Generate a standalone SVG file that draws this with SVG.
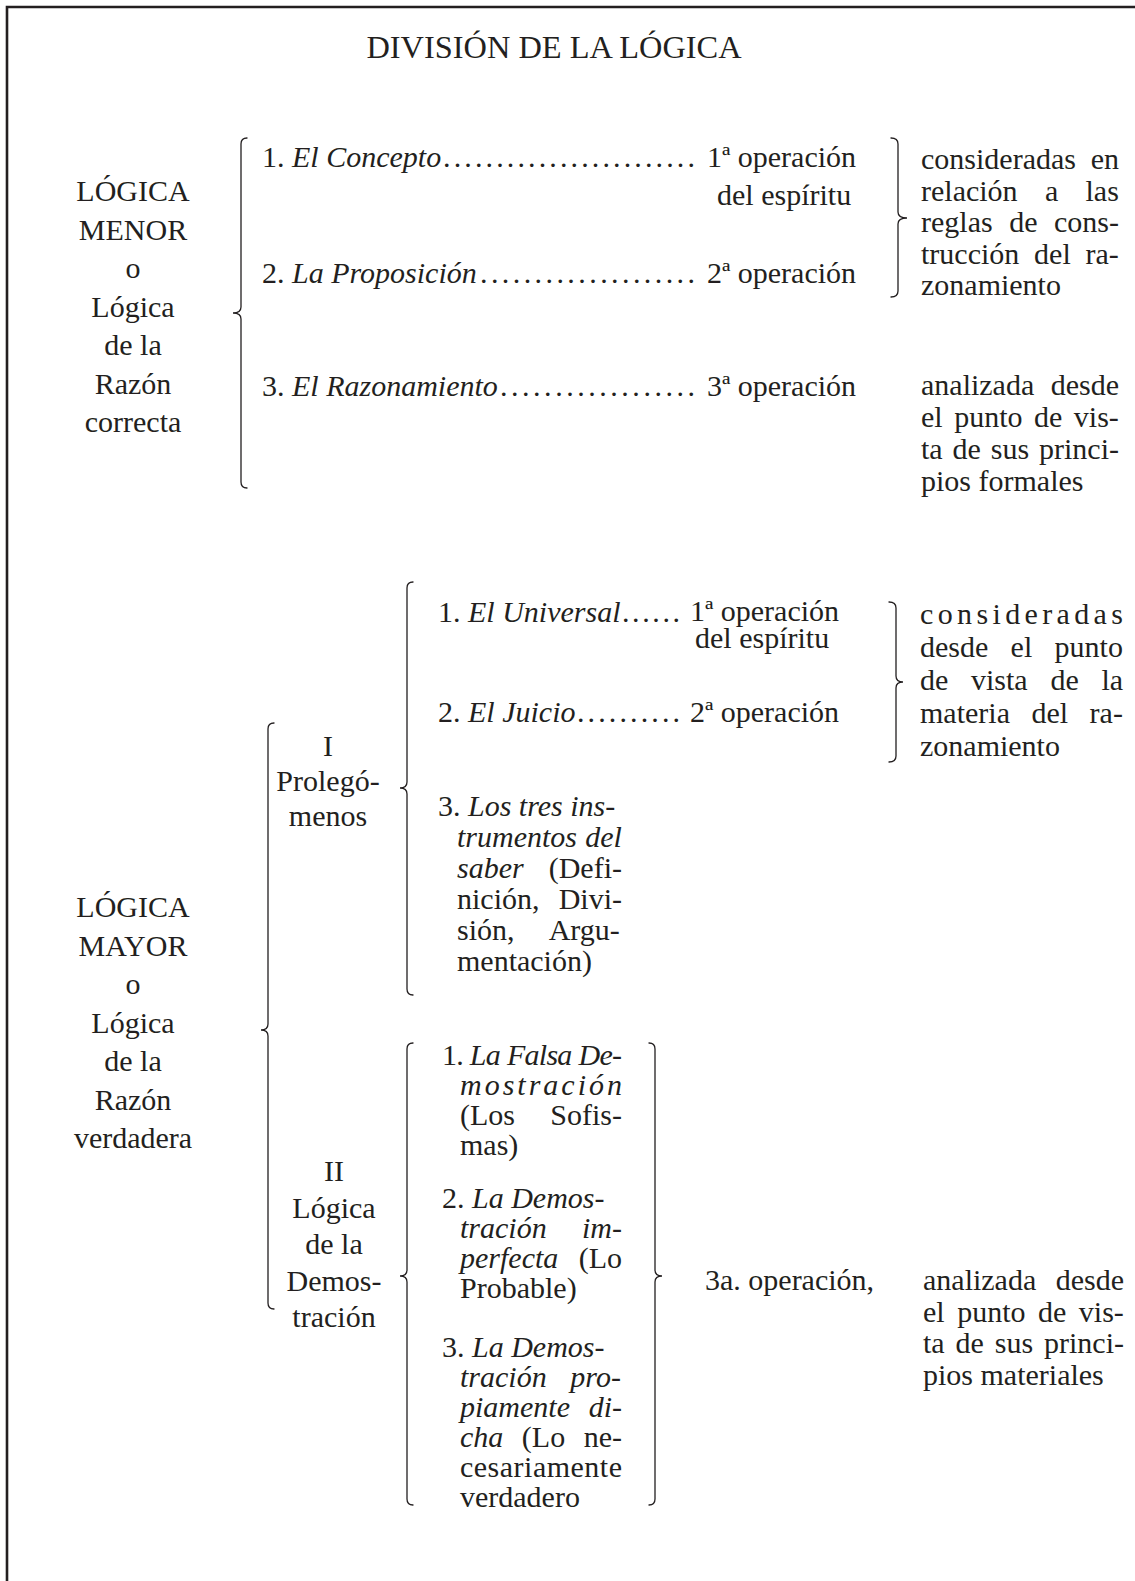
<svg xmlns="http://www.w3.org/2000/svg" width="1135" height="1581" viewBox="0 0 1135 1581">
<style>
.t{font-family:"Liberation Serif","Times New Roman",serif;font-size:30px;fill:#231f20}
.c{text-anchor:middle}
.i{font-style:italic}
.ttl{font-size:32.4px}
.br{fill:none;stroke:#231f20;stroke-width:1.3;stroke-linecap:round}
.frame{fill:none;stroke:#231f20;stroke-width:2.6}
</style>
<rect width="1135" height="1581" fill="#ffffff"/>
<path class="frame" d="M7 1581 L7 7 L1135 7"/>

<g id="title"><text class="t ttl c" x="554" y="58">DIVISIÓN DE LA LÓGICA</text></g>

<g id="logica-menor">
<text class="t c"><tspan x="133" y="201">LÓGICA</tspan><tspan x="133" y="239.5">MENOR</tspan><tspan x="133" y="278">o</tspan><tspan x="133" y="316.5">Lógica</tspan><tspan x="133" y="355">de la</tspan><tspan x="133" y="393.5">Razón</tspan><tspan x="133" y="432">correcta</tspan></text>
</g>

<g id="concepto">
<text class="t" x="262" y="167">1. <tspan class="i">El Concepto</tspan></text>
<text class="t" x="443" y="167" textLength="252" lengthAdjust="spacing">........................</text>
<text class="t" x="707" y="167">1ª operación</text>
<text class="t" x="717" y="205">del espíritu</text>
</g>
<g id="proposicion">
<text class="t" x="262" y="283">2. <tspan class="i">La Proposición</tspan></text>
<text class="t" x="480" y="283" textLength="215" lengthAdjust="spacing">....................</text>
<text class="t" x="707" y="283">2ª operación</text>
</g>
<g id="razonamiento">
<text class="t" x="262" y="396">3. <tspan class="i">El Razonamiento</tspan></text>
<text class="t" x="500" y="396" textLength="195" lengthAdjust="spacing">..................</text>
<text class="t" x="707" y="396">3ª operación</text>
</g>

<g id="reglas">
<text class="t" x="921" y="169" style="word-spacing:7.2px">consideradas en</text>
<text class="t" x="921" y="200.5" style="word-spacing:19.8px">relación a las</text>
<text class="t" x="921" y="232" style="word-spacing:9px">reglas de cons-</text>
<text class="t" x="921" y="263.5" style="word-spacing:7.3px">trucción del ra-</text>
<text class="t" x="921" y="295">zonamiento</text>
</g>
<g id="principios-formales">
<text class="t" x="921" y="395" style="word-spacing:8.9px">analizada desde</text>
<text class="t" x="921" y="427" style="word-spacing:4px">el punto de vis-</text>
<text class="t" x="921" y="459" style="word-spacing:2.4px">ta de sus princi-</text>
<text class="t" x="921" y="491">pios formales</text>
</g>

<g id="logica-mayor">
<text class="t c"><tspan x="133" y="917">LÓGICA</tspan><tspan x="133" y="955.5">MAYOR</tspan><tspan x="133" y="994">o</tspan><tspan x="133" y="1032.5">Lógica</tspan><tspan x="133" y="1071">de la</tspan><tspan x="133" y="1109.5">Razón</tspan><tspan x="133" y="1148">verdadera</tspan></text>
</g>

<g id="prolegomenos">
<text class="t c"><tspan x="328" y="756">I</tspan><tspan x="328" y="791">Prolegó-</tspan><tspan x="328" y="826">menos</tspan></text>
</g>

<g id="universal">
<text class="t" x="438" y="622">1. <tspan class="i">El Universal</tspan></text>
<text class="t" x="622" y="622" textLength="58" lengthAdjust="spacing">......</text>
<text class="t" x="690" y="621">1ª operación</text>
<text class="t" x="695" y="648">del espíritu</text>
</g>
<g id="juicio">
<text class="t" x="438" y="722">2. <tspan class="i">El Juicio</tspan></text>
<text class="t" x="577" y="722" textLength="103" lengthAdjust="spacing">..........</text>
<text class="t" x="690" y="722">2ª operación</text>
</g>
<g id="instrumentos">
<text class="t" x="438" y="816">3. <tspan class="i">Los tres ins-</tspan></text>
<text class="t i" x="457" y="847" style="word-spacing:0.8px">trumentos del</text>
<text class="t" x="457" y="878" style="word-spacing:17.5px"><tspan class="i">saber</tspan> (Defi-</text>
<text class="t" x="457" y="909" style="word-spacing:11.7px">nición, Divi-</text>
<text class="t" x="457" y="940" style="word-spacing:28.3px">sión, Argu-</text>
<text class="t" x="457" y="971">mentación)</text>
</g>

<g id="materia">
<text class="t" x="920" y="624" textLength="203" lengthAdjust="spacing">consideradas</text>
<text class="t" x="920" y="657" style="word-spacing:14.8px">desde el punto</text>
<text class="t" x="920" y="690" style="word-spacing:15.2px">de vista de la</text>
<text class="t" x="920" y="723" style="word-spacing:14px">materia del ra-</text>
<text class="t" x="920" y="756">zonamiento</text>
</g>

<g id="demostracion">
<text class="t c"><tspan x="334" y="1181">II</tspan><tspan x="334" y="1217.5">Lógica</tspan><tspan x="334" y="1254">de la</tspan><tspan x="334" y="1290.5">Demos-</tspan><tspan x="334" y="1327">tración</tspan></text>
</g>

<g id="falsa-demostracion">
<text class="t" x="442" y="1065" textLength="180" lengthAdjust="spacing">1. <tspan class="i">La Falsa De-</tspan></text>
<text class="t i" x="460" y="1095" textLength="162" lengthAdjust="spacing">mostración</text>
<text class="t" x="460" y="1125" style="word-spacing:27.8px">(Los Sofis-</text>
<text class="t" x="460" y="1155">mas)</text>
</g>
<g id="demostracion-imperfecta">
<text class="t" x="442" y="1208">2. <tspan class="i">La Demos-</tspan></text>
<text class="t i" x="460" y="1238" style="word-spacing:27.8px">tración im-</text>
<text class="t" x="460" y="1268" style="word-spacing:12.9px"><tspan class="i">perfecta</tspan> (Lo</text>
<text class="t" x="460" y="1298">Probable)</text>
</g>
<g id="demostracion-propia">
<text class="t" x="442" y="1357">3. <tspan class="i">La Demos-</tspan></text>
<text class="t i" x="460" y="1387" style="word-spacing:16.2px">tración pro-</text>
<text class="t i" x="460" y="1417" style="word-spacing:11.2px">piamente di-</text>
<text class="t" x="460" y="1447" style="word-spacing:11px"><tspan class="i">cha</tspan> (Lo ne-</text>
<text class="t" x="460" y="1477" textLength="162" lengthAdjust="spacing">cesariamente</text>
<text class="t" x="460" y="1507">verdadero</text>
</g>

<g id="tercera-operacion"><text class="t" x="705" y="1290">3a. operación,</text></g>

<g id="principios-materiales">
<text class="t" x="923" y="1290" style="word-spacing:11.9px">analizada desde</text>
<text class="t" x="923" y="1321.5" style="word-spacing:5px">el punto de vis-</text>
<text class="t" x="923" y="1353" style="word-spacing:3.4px">ta de sus princi-</text>
<text class="t" x="923" y="1384.5">pios materiales</text>
</g>

<g id="connectors">
<path class="br" d="M247 138 Q241 138 241 144 L241 307 Q241 313 233 313 Q241 313 241 319 L241 482 Q241 488 247 488"/>
<path class="br" d="M891 138 Q898 138 898 144 L898 212 Q898 218 907 218 Q898 218 898 224 L898 291 Q898 297 891 297"/>
<path class="br" d="M274 723 Q268 723 268 729 L268 1024 Q268 1030 261 1030 Q268 1030 268 1036 L268 1303 Q268 1309 274 1309"/>
<path class="br" d="M413 582 Q407 582 407 588 L407 782 Q407 788 400 788 Q407 788 407 794 L407 989 Q407 995 413 995"/>
<path class="br" d="M889 602 Q896 602 896 608 L896 676 Q896 682 903 682 Q896 682 896 688 L896 756 Q896 762 889 762"/>
<path class="br" d="M413 1043 Q407 1043 407 1049 L407 1270 Q407 1276 400 1276 Q407 1276 407 1282 L407 1499 Q407 1505 413 1505"/>
<path class="br" d="M649 1043 Q655 1043 655 1049 L655 1270 Q655 1276 662 1276 Q655 1276 655 1282 L655 1499 Q655 1505 649 1505"/>
</g>
</svg>
